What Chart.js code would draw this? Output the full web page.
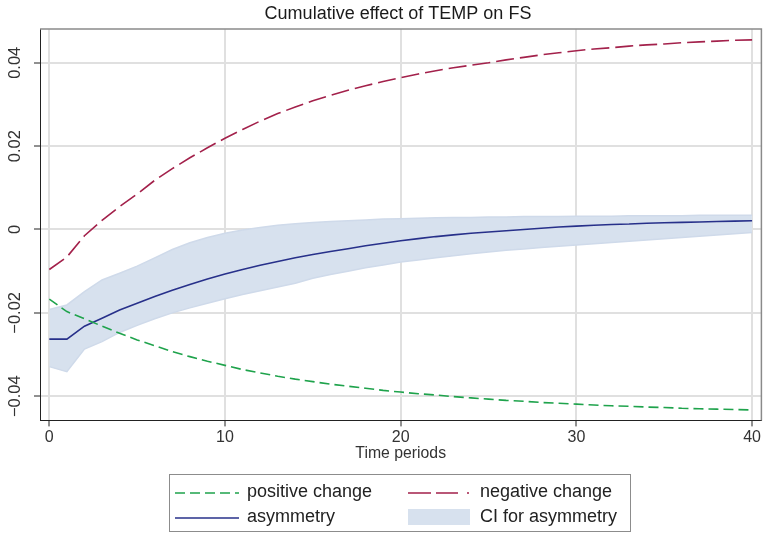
<!DOCTYPE html>
<html>
<head>
<meta charset="utf-8">
<script src="https://cdn.jsdelivr.net/npm/chart.js@4.4.1/dist/chart.umd.min.js"></script>
<style>
    html, body { margin: 0; padding: 0; background: #fff; }
    #wrap { width: 763px; height: 533px; position: relative; }
</style>
</head>
<body>
<div id="wrap"><canvas id="chart"></canvas></div>
<script>
const periods = [0, 1, 2, 3, 4, 5, 6, 7, 8, 9, 10, 11, 12, 13, 14, 15, 16, 17, 18, 19, 20,
    21, 22, 23, 24, 25, 26, 27, 28, 29, 30, 31, 32, 33, 34, 35, 36, 37, 38, 39, 40];

const positiveChange = [-0.0167, -0.0197, -0.0214, -0.0232, -0.0249, -0.0265, -0.0279, -0.0293, -0.0305, -0.0316,
    -0.0326, -0.0336, -0.0344, -0.0352, -0.0359, -0.0365, -0.0371, -0.0376, -0.0381, -0.0386,
    -0.0390, -0.0394, -0.0397, -0.0401, -0.0404, -0.0407, -0.0410, -0.0412, -0.0415, -0.0417,
    -0.0419, -0.0421, -0.0423, -0.0424, -0.0426, -0.0427, -0.0429, -0.0430, -0.0431, -0.0432, -0.0433];

const negativeChange = [-0.0096, -0.0066, -0.0015, 0.0022, 0.0055, 0.0085, 0.0118, 0.0146, 0.0172, 0.0196,
    0.0219, 0.0240, 0.0260, 0.0278, 0.0294, 0.0309, 0.0322, 0.0334, 0.0345, 0.0355,
    0.0364, 0.0373, 0.0381, 0.0388, 0.0394, 0.0400, 0.0407, 0.0413, 0.0419, 0.0424,
    0.0429, 0.0433, 0.0436, 0.0440, 0.0443, 0.0445, 0.0448, 0.0450, 0.0452, 0.0454, 0.0455];

const asymmetry = [-0.0263, -0.0263, -0.0232, -0.0213, -0.0193, -0.0177, -0.0161, -0.0146, -0.0132, -0.0119,
    -0.0107, -0.0096, -0.0086, -0.0077, -0.0068, -0.0060, -0.0053, -0.0046, -0.0039, -0.0033,
    -0.0027, -0.0022, -0.0017, -0.0013, -0.0009, -0.0006, -0.0003, 0.0000, 0.0003, 0.0006,
    0.0008, 0.0010, 0.0012, 0.0013, 0.0015, 0.0016, 0.0017, 0.0018, 0.0019, 0.0020, 0.0021];

const ciUpper = [-0.0192, -0.0181, -0.0149, -0.0121, -0.0105, -0.0088, -0.0068, -0.0048, -0.0032, -0.0019,
    -0.0009, -0.0001, 0.0005, 0.0010, 0.0014, 0.0017, 0.0019, 0.0021, 0.0023, 0.0025,
    0.0026, 0.0027, 0.0028, 0.0029, 0.0029, 0.0030, 0.0030, 0.0031, 0.0031, 0.0031,
    0.0032, 0.0032, 0.0032, 0.0033, 0.0033, 0.0033, 0.0033, 0.0034, 0.0034, 0.0034, 0.0034];

const ciLower = [-0.0329, -0.0341, -0.0287, -0.0269, -0.0247, -0.0230, -0.0214, -0.0200, -0.0188, -0.0177,
    -0.0166, -0.0156, -0.0147, -0.0138, -0.0129, -0.0117, -0.0108, -0.0100, -0.0092, -0.0085,
    -0.0078, -0.0073, -0.0068, -0.0063, -0.0058, -0.0054, -0.0050, -0.0047, -0.0043, -0.0040,
    -0.0037, -0.0034, -0.0031, -0.0028, -0.0025, -0.0022, -0.0019, -0.0016, -0.0013, -0.0010, -0.0007];

const xTicks = [0, 10, 20, 30, 40];
const yTicks = [-0.04, -0.02, 0, 0.02, 0.04];
const yTickLabels = ['\u22120.04', '\u22120.02', '0', '0.02', '0.04'];

const GREEN = '#1fa34c';
const RED = '#a3214b';
const NAVY = '#27308a';
const BAND = '#d7e1ee';
const FONT = '"Liberation Sans", Arial, sans-serif';

const pts = (ys) => periods.map((x, i) => ({x, y: ys[i]}));

// rotated y labels, plot box border, x title and the legend
const stataDecor = {
    id: 'stataDecor',
    afterDraw(chart) {
        const {ctx, chartArea, scales} = chart;
        ctx.save();

        ctx.strokeStyle = '#8a8a8a';
        ctx.lineWidth = 1.5;
        ctx.beginPath();
        ctx.moveTo(chartArea.left, chartArea.top);
        ctx.lineTo(chartArea.right, chartArea.top);
        ctx.lineTo(chartArea.right, chartArea.bottom);
        ctx.stroke();

        ctx.fillStyle = '#333';
        ctx.font = '16.5px ' + FONT;
        ctx.textAlign = 'center';
        ctx.textBaseline = 'middle';
        yTicks.forEach((v, i) => {
            const y = scales.y.getPixelForValue(v);
            ctx.save();
            ctx.translate(15, y);
            ctx.rotate(-Math.PI / 2);
            ctx.fillText(yTickLabels[i], 0, 0);
            ctx.restore();
        });

        ctx.font = '15.8px ' + FONT;
        ctx.fillText('Time periods', (chartArea.left + chartArea.right) / 2, 454);

        // legend
        ctx.strokeStyle = '#8c8c8c';
        ctx.lineWidth = 1;
        ctx.strokeRect(169.5, 474.5, 461, 57);

        const drawLine = (x1, x2, y, color, dash, width) => {
            ctx.save();
            ctx.strokeStyle = color;
            ctx.lineWidth = width;
            ctx.setLineDash(dash);
            ctx.beginPath();
            ctx.moveTo(x1, y);
            ctx.lineTo(x2, y);
            ctx.stroke();
            ctx.restore();
        };
        drawLine(175, 239, 493, GREEN, [10, 5], 1.6);
        drawLine(408, 470, 493, RED, [23, 5, 22, 9, 2, 100], 1.6);
        drawLine(175, 239, 518, NAVY, [], 1.6);
        ctx.fillStyle = BAND;
        ctx.fillRect(408, 509, 62, 16);

        ctx.fillStyle = '#222';
        ctx.font = '18px ' + FONT;
        ctx.textAlign = 'left';
        ctx.fillText('positive change', 247, 492);
        ctx.fillText('negative change', 480, 492);
        ctx.fillText('asymmetry', 247, 517);
        ctx.fillText('CI for asymmetry', 480, 517);

        ctx.restore();
    }
};

new Chart(document.getElementById('chart'), {
    type: 'line',
    data: {
        datasets: [
            {
                label: 'positive change',
                data: pts(positiveChange),
                borderColor: GREEN,
                borderWidth: 1.6,
                borderDash: [10, 5],
                order: 1
            },
            {
                label: 'negative change',
                data: pts(negativeChange),
                borderColor: RED,
                borderWidth: 1.6,
                borderDash: [18, 6],
                order: 2
            },
            {
                label: 'asymmetry',
                data: pts(asymmetry),
                borderColor: NAVY,
                borderWidth: 1.6,
                order: 3
            },
            {
                label: 'CI lower',
                data: pts(ciLower),
                borderColor: '#cfdaea',
                borderWidth: 1.5,
                order: 10
            },
            {
                label: 'CI for asymmetry',
                data: pts(ciUpper),
                borderColor: '#cfdaea',
                borderWidth: 1.5,
                backgroundColor: BAND,
                fill: '-1',
                order: 11
            }
        ]
    },
    options: {
        responsive: true,
        maintainAspectRatio: false,
        devicePixelRatio: 1,
        animation: false,
        layout: {padding: {left: 34, right: 1, top: 0, bottom: 83.4}},
        elements: {point: {radius: 0}, line: {tension: 0}},
        plugins: {
            legend: {display: false},
            tooltip: {enabled: false},
            title: {
                display: true,
                text: 'Cumulative effect of TEMP on FS',
                color: '#1a1a1a',
                font: {family: FONT, size: 18, weight: 'normal', lineHeight: 1.2},
                padding: {top: 3, bottom: 4.4}
            }
        },
        scales: {
            x: {
                type: 'linear',
                min: -0.53,
                max: 40.53,
                afterBuildTicks: (axis) => { axis.ticks = xTicks.map(v => ({value: v})); },
                grid: {color: '#e0e0e0', lineWidth: 2, tickColor: '#222', tickWidth: 1, tickLength: 6},
                border: {display: true, color: '#222', width: 1},
                ticks: {color: '#333', padding: 2, font: {family: FONT, size: 16, lineHeight: 1.2}, maxRotation: 0}
            },
            y: {
                min: -0.0458,
                max: 0.0481,
                afterBuildTicks: (axis) => { axis.ticks = yTicks.map(v => ({value: v})); },
                grid: {color: '#e0e0e0', lineWidth: 2, tickColor: '#222', tickWidth: 1, tickLength: 6},
                border: {display: true, color: '#222', width: 1},
                ticks: {display: false}
            }
        }
    },
    plugins: [stataDecor]
});
</script>
</body>
</html>
